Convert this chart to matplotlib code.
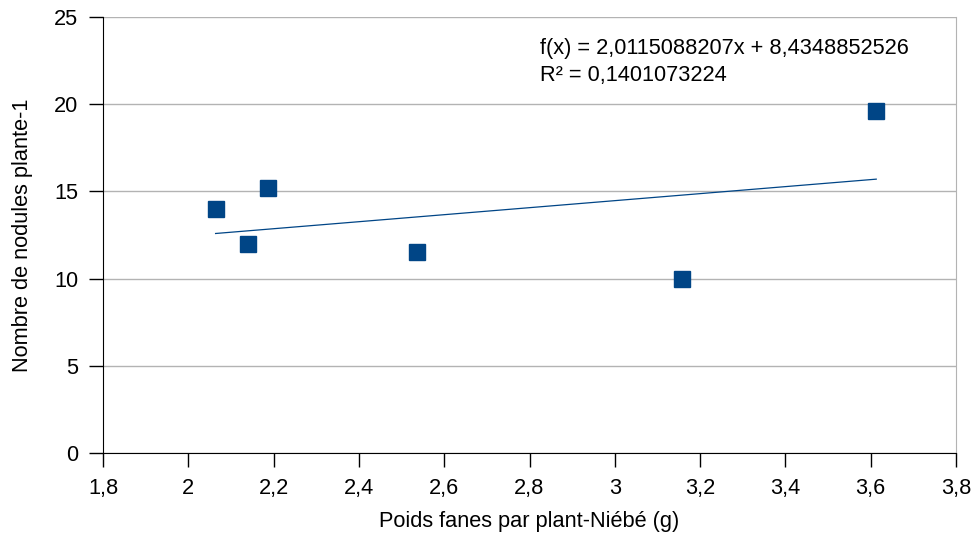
import matplotlib
matplotlib.use("Agg")
import matplotlib.pyplot as plt
import numpy as np

plt.rcParams['font.family'] = ['Liberation Sans', 'DejaVu Sans']

# données
poids = [2.064, 2.139, 2.188, 2.536, 3.157, 3.613]
nodules = [14.0, 12.0, 15.2, 11.5, 10.0, 19.6]

pente = 2.0115088207
ordonnee = 8.4348852526
r2 = 0.1401073224

bleu = '#004586'
fs = 15.7

fig = plt.figure(figsize=(9.74, 5.49), dpi=100)
ax = fig.add_axes([103 / 974, 1 - 453 / 549, 853 / 974, 436 / 549])

ax.plot(poids, nodules, linestyle='none', marker='s', markersize=11.5,
        color=bleu, zorder=3)

xt = np.array([min(poids), max(poids)])
ax.plot(xt, pente * xt + ordonnee, color=bleu, linewidth=0.9, zorder=2)

ax.set_xlim(1.8, 3.8)
ax.set_ylim(0, 25)
ax.set_xticks(np.arange(1.8, 3.81, 0.2))
ax.set_yticks(range(0, 26, 5))
ax.set_xticklabels([f"{v:g}".replace('.', ',') for v in np.round(np.arange(1.8, 3.81, 0.2), 1)])
ax.set_yticklabels([str(v) for v in range(0, 26, 5)])

ax.grid(axis='y', color='#b3b3b3', linewidth=1)
ax.set_axisbelow(True)
ax.spines['top'].set_visible(False)
ax.spines['right'].set_color('#b3b3b3')
ax.spines['left'].set_color('black')
ax.spines['bottom'].set_color('black')
ax.tick_params(direction='out', length=10, width=1, labelsize=fs, pad=8)

ax.set_xlabel('Poids fanes par plant-Niébé (g)', fontsize=fs, labelpad=9)
ax.set_ylabel('Nombre de nodules plante-1', fontsize=fs, labelpad=15)

txt = ("f(x) = " + f"{pente:.10f}".replace('.', ',') + "x + "
       + f"{ordonnee:.10f}".replace('.', ',') + "\nR² = "
       + f"{r2:.10f}".replace('.', ','))
ax.text(0.512, 0.952, txt, transform=ax.transAxes, fontsize=fs,
        va='top', ha='left', linespacing=1.4)

fig.savefig('out.png', dpi=100)
